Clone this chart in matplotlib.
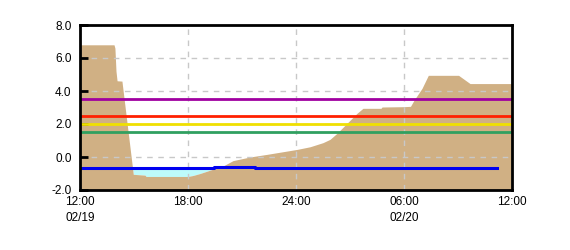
import matplotlib
matplotlib.use("Agg")
import matplotlib.pyplot as plt
import numpy as np

# Time in hours since 02/19 12:00
ground_t = [0.0, 1.89, 1.94, 2.0, 2.06, 2.33, 2.96, 3.61, 3.67, 6.0, 6.28, 6.67, 7.22,
            7.94, 8.5, 9.44, 10.39, 11.28, 12.06, 12.78, 13.5, 13.89, 14.28, 14.83,
            15.39, 15.72, 16.72, 16.78, 18.0, 18.36, 18.56, 19.0, 19.35, 21.03, 21.67, 24.0]
ground_v = [6.8, 6.8, 6.6, 5.2, 4.62, 4.6, -1.05, -1.1, -1.18, -1.18, -1.12, -1.0, -0.8,
            -0.55, -0.22, 0.0, 0.16, 0.32, 0.46, 0.62, 0.87, 1.07, 1.44, 2.04,
            2.65, 2.95, 2.95, 3.03, 3.05, 3.07, 3.45, 4.16, 4.95, 4.95, 4.45, 4.45]

level_t = [0.0, 7.22, 7.44, 9.72, 23.15]
level_v = [-0.65, -0.69, -0.63, -0.66, -0.66]

thresholds = [3.5, 2.5, 2.0, 1.5]
threshold_colors = ["#A000A0", "#FF2000", "#F0E000", "#30A060"]

xticks = [0, 6, 12, 18, 24]
xticklabels = ["12:00\n02/19", "18:00", "24:00", "06:00\n02/20", "12:00"]
yticks = [-2, 0, 2, 4, 6, 8]
yticklabels = ["-2.0", "0.0", "2.0", "4.0", "6.0", "8.0"]

plt.rcParams['font.family'] = ['Liberation Sans', 'DejaVu Sans']

fig = plt.figure(figsize=(5.7, 2.5), dpi=100)
ax = fig.add_axes([80/570, 60/250, 432/570, 165/250])

gt = np.array(ground_t)
gv = np.array(ground_v)
lt = np.array(level_t)
lv = np.array(level_v)
tt = np.linspace(0, lt[-1], 3000)
g_i = np.interp(tt, gt, gv)
l_i = lv[np.searchsorted(lt, tt, side='right') - 1]
ax.fill_between(tt, g_i, l_i, where=g_i < l_i, color="#BDFBFB", linewidth=0, zorder=1)
ax.fill_between(gt, -2, gv, color="#D0B084", linewidth=0, zorder=1.5)

ax.grid(True, color="#C8C8C8", linestyle=(0, (4, 4)), linewidth=1.0)
ax.set_axisbelow(False)
for gl in ax.get_xgridlines() + ax.get_ygridlines():
    gl.set_zorder(1.8)

for v, c in zip(thresholds, threshold_colors):
    ax.axhline(v, color=c, linewidth=2.0, zorder=3)
ax.step(lt, lv, where='post', color="#0000F0", linewidth=2.2, zorder=3)

ax.set_xlim(0, 24)
ax.set_ylim(-2, 8)
ax.set_xticks(xticks)
ax.set_xticklabels(xticklabels, fontsize=8.5, linespacing=1.45)
ax.set_yticks(yticks)
ax.set_yticklabels(yticklabels, fontsize=8.5)
ax.tick_params(axis='x', length=0, pad=4)
ax.tick_params(axis='y', direction='in', length=6, width=2, pad=6)
for s in ax.spines.values():
    s.set_linewidth(2)
    s.set_zorder(5)

fig.savefig("out.png", dpi=100)
